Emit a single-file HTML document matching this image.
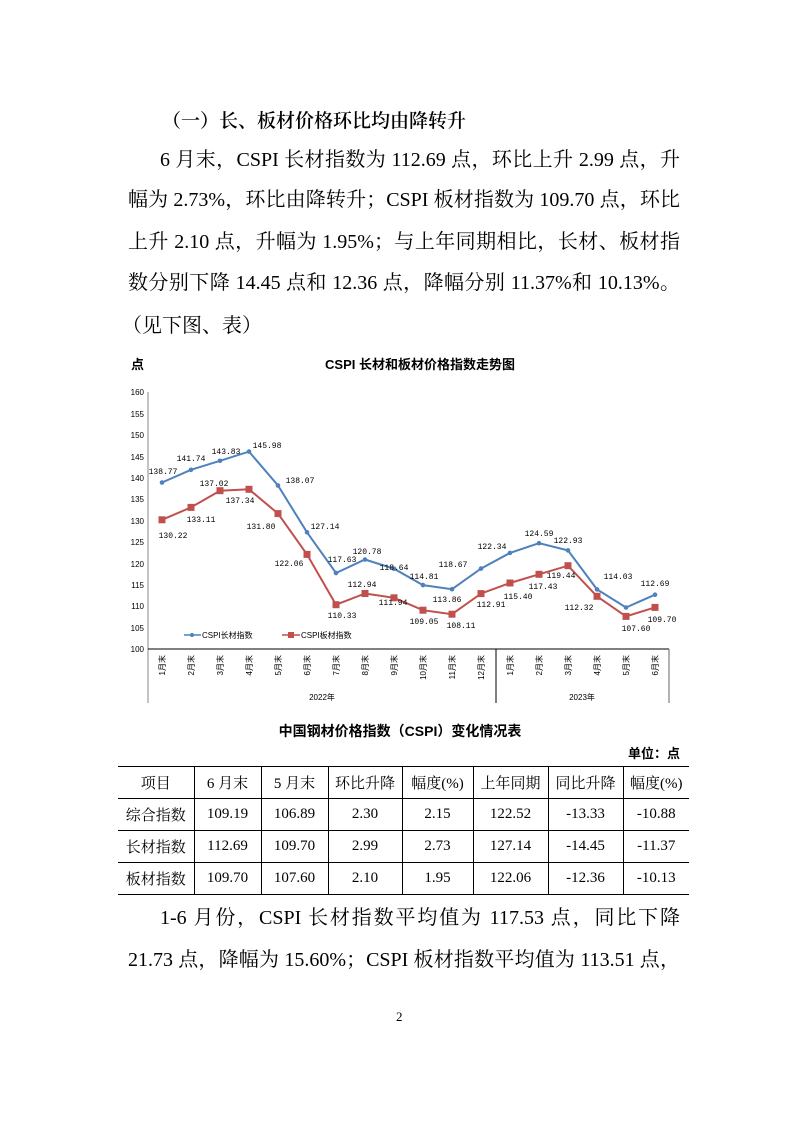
<!DOCTYPE html>
<html><head><meta charset="utf-8"><style>
html,body{margin:0;padding:0;background:#fff;}
body{width:800px;height:1131px;position:relative;overflow:hidden;font-family:"Liberation Serif","Noto Serif CJK SC",serif;color:#000;}
.ln{position:absolute;left:128px;width:552px;font-size:20px;line-height:24px;text-align:justify;text-align-last:justify;white-space:nowrap;}
.abs{position:absolute;white-space:nowrap;}
table{position:absolute;left:118px;top:766px;width:571px;border-collapse:collapse;font-size:15px;table-layout:fixed;}
td{height:31px;text-align:center;border-left:1px solid #000;padding:0;overflow:hidden;white-space:nowrap;}
td:first-child{border-left:none;}
tr:first-child td{border-top:1.5px solid #000;}
tr td{border-bottom:1px solid #000;}
tr:last-child td{border-bottom:1.5px solid #000;}
</style></head><body>
<div class="abs" style="left:162px;top:106px;font-size:19px;font-weight:600;font-family:'Noto Serif CJK SC',serif;">（一）长、板材价格环比均由降转升</div>
<div class="ln" style="top:148px;left:160px;width:520px;">6 月末，CSPI 长材指数为 112.69 点，环比上升 2.99 点，升</div>
<div class="ln" style="top:188px;">幅为 2.73%，环比由降转升；CSPI 板材指数为 109.70 点，环比</div>
<div class="ln" style="top:230px;">上升 2.10 点，升幅为 1.95%；与上年同期相比，长材、板材指</div>
<div class="ln" style="top:271px;">数分别下降 14.45 点和 12.36 点，降幅分别 11.37%和 10.13%。</div>
<div class="abs" style="top:314px;left:122px;font-size:20px;line-height:24px;">（见下图、表）</div>

<svg width="800" height="1131" style="position:absolute;left:0;top:0" xmlns="http://www.w3.org/2000/svg">
<g font-family="Liberation Sans,Noto Sans CJK SC,sans-serif">
<text x="131" y="369" font-size="13" font-weight="bold">点</text>
<text x="420" y="369" font-size="13" font-weight="bold" text-anchor="middle">CSPI 长材和板材价格指数走势图</text>
</g>
<g font-family="Liberation Sans,sans-serif" font-size="8" text-anchor="end" fill="#000">
<text x="144" y="395">160</text><text x="144" y="417">155</text><text x="144" y="438">150</text><text x="144" y="460">145</text><text x="144" y="481">140</text><text x="144" y="502">135</text><text x="144" y="524">130</text><text x="144" y="545">125</text><text x="144" y="567">120</text><text x="144" y="588">115</text><text x="144" y="609">110</text><text x="144" y="631">105</text><text x="144" y="652">100</text>
</g>
<g stroke="#000" stroke-width="1">
<line x1="148" y1="392" x2="148" y2="703" stroke="#888"/>
<line x1="148" y1="649" x2="669" y2="649"/>
<line x1="496" y1="649" x2="496" y2="703"/>
<line x1="669" y1="649" x2="669" y2="703" stroke="#666"/>
</g>
<polyline fill="none" stroke="#4f81bd" stroke-width="2" points="162,482.5 191,469.8 220,460.8 249,451.6 278,485.5 307,532.3 336,573.0 365,559.5 394,568.7 423,585.1 452,589.2 481,568.6 510,552.9 539,543.2 568,550.4 597,589.4 626,607.5 655,594.7"/>
<g fill="#4f81bd">
<circle cx="162" cy="482.5" r="2.3"/><circle cx="191" cy="469.8" r="2.3"/><circle cx="220" cy="460.8" r="2.3"/><circle cx="249" cy="451.6" r="2.3"/><circle cx="278" cy="485.5" r="2.3"/><circle cx="307" cy="532.3" r="2.3"/><circle cx="336" cy="573.0" r="2.3"/><circle cx="365" cy="559.5" r="2.3"/><circle cx="394" cy="568.7" r="2.3"/><circle cx="423" cy="585.1" r="2.3"/><circle cx="452" cy="589.2" r="2.3"/><circle cx="481" cy="568.6" r="2.3"/><circle cx="510" cy="552.9" r="2.3"/><circle cx="539" cy="543.2" r="2.3"/><circle cx="568" cy="550.4" r="2.3"/><circle cx="597" cy="589.4" r="2.3"/><circle cx="626" cy="607.5" r="2.3"/><circle cx="655" cy="594.7" r="2.3"/>
</g>
<polyline fill="none" stroke="#c0504d" stroke-width="2" points="162,519.8 191,507.4 220,490.7 249,489.3 278,513.6 307,554.4 336,604.7 365,593.5 394,597.8 423,610.2 452,614.2 481,593.6 510,583.0 539,574.3 568,565.7 597,596.3 626,616.4 655,607.4"/>
<g fill="#c0504d">
<rect x="158.5" y="516.3" width="7" height="7"/><rect x="187.5" y="503.9" width="7" height="7"/><rect x="216.5" y="487.2" width="7" height="7"/><rect x="245.5" y="485.8" width="7" height="7"/><rect x="274.5" y="510.1" width="7" height="7"/><rect x="303.5" y="550.9" width="7" height="7"/><rect x="332.5" y="601.2" width="7" height="7"/><rect x="361.5" y="590" width="7" height="7"/><rect x="390.5" y="594.3" width="7" height="7"/><rect x="419.5" y="606.7" width="7" height="7"/><rect x="448.5" y="610.7" width="7" height="7"/><rect x="477.5" y="590.1" width="7" height="7"/><rect x="506.5" y="579.5" width="7" height="7"/><rect x="535.5" y="570.8" width="7" height="7"/><rect x="564.5" y="562.2" width="7" height="7"/><rect x="593.5" y="592.8" width="7" height="7"/><rect x="622.5" y="612.9" width="7" height="7"/><rect x="651.5" y="603.9" width="7" height="7"/>
</g>
<g font-family="Liberation Mono,monospace" font-size="8" text-anchor="middle" fill="#000">
<text x="163" y="474">138.77</text><text x="191" y="461">141.74</text><text x="226" y="454">143.83</text><text x="267" y="448">145.98</text><text x="300" y="483">138.07</text><text x="325" y="529">127.14</text><text x="342" y="562">117.63</text><text x="367" y="554">120.78</text><text x="394" y="570">118.64</text><text x="424" y="579">114.81</text><text x="447" y="602">113.86</text><text x="453" y="567">118.67</text><text x="492" y="549">122.34</text><text x="539" y="536">124.59</text><text x="568" y="543">122.93</text><text x="618" y="579">114.03</text><text x="655" y="586">112.69</text>
<text x="173" y="538">130.22</text><text x="201" y="522">133.11</text><text x="214" y="486">137.02</text><text x="240" y="503">137.34</text><text x="261" y="529">131.80</text><text x="289" y="566">122.06</text><text x="342" y="618">110.33</text><text x="362" y="587">112.94</text><text x="393" y="605">111.94</text><text x="424" y="624">109.05</text><text x="461" y="628">108.11</text><text x="491" y="607">112.91</text><text x="518" y="599">115.40</text><text x="543" y="589">117.43</text><text x="561" y="578">119.44</text><text x="579" y="610">112.32</text><text x="636" y="631">107.60</text><text x="662" y="622">109.70</text>
</g>
<line x1="184" y1="635" x2="201" y2="635" stroke="#4f81bd" stroke-width="1.5"/><circle cx="192" cy="635" r="2" fill="#4f81bd"/>
<line x1="282" y1="635" x2="300" y2="635" stroke="#c0504d" stroke-width="1.5"/><rect x="288" y="632" width="6" height="6" fill="#c0504d"/>
<g font-family="Liberation Sans,Noto Sans CJK SC,sans-serif" font-size="8" fill="#000">
<text x="202" y="638">CSPI长材指数</text><text x="301" y="638">CSPI板材指数</text>
<text x="322" y="700" text-anchor="middle">2022年</text><text x="582" y="700" text-anchor="middle">2023年</text>
</g>
<g font-family="Liberation Sans,Noto Sans CJK SC,sans-serif" font-size="8" text-anchor="end" fill="#000">
<text transform="translate(165,655) rotate(-90)">1月末</text><text transform="translate(194,655) rotate(-90)">2月末</text><text transform="translate(223,655) rotate(-90)">3月末</text><text transform="translate(252,655) rotate(-90)">4月末</text><text transform="translate(281,655) rotate(-90)">5月末</text><text transform="translate(310,655) rotate(-90)">6月末</text><text transform="translate(339,655) rotate(-90)">7月末</text><text transform="translate(368,655) rotate(-90)">8月末</text><text transform="translate(397,655) rotate(-90)">9月末</text><text transform="translate(426,655) rotate(-90)">10月末</text><text transform="translate(455,655) rotate(-90)">11月末</text><text transform="translate(484,655) rotate(-90)">12月末</text><text transform="translate(513,655) rotate(-90)">1月末</text><text transform="translate(542,655) rotate(-90)">2月末</text><text transform="translate(571,655) rotate(-90)">3月末</text><text transform="translate(600,655) rotate(-90)">4月末</text><text transform="translate(629,655) rotate(-90)">5月末</text><text transform="translate(658,655) rotate(-90)">6月末</text>
</g>
<g font-family="Liberation Sans,Noto Sans CJK SC,sans-serif" font-weight="bold" font-size="14" fill="#000">
<text x="400" y="736" text-anchor="middle">中国钢材价格指数（CSPI）变化情况表</text>
<text x="680" y="758" text-anchor="end" font-size="13">单位：点</text>
</g>
</svg>

<table>
<colgroup><col style="width:76px"><col style="width:67px"><col style="width:67px"><col style="width:74px"><col style="width:71px"><col style="width:75px"><col style="width:75px"><col style="width:66px"></colgroup>
<tr><td>项目</td><td>6 月末</td><td>5 月末</td><td>环比升降</td><td>幅度(%)</td><td>上年同期</td><td>同比升降</td><td>幅度(%)</td></tr>
<tr><td>综合指数</td><td>109.19</td><td>106.89</td><td>2.30</td><td>2.15</td><td>122.52</td><td>-13.33</td><td>-10.88</td></tr>
<tr><td>长材指数</td><td>112.69</td><td>109.70</td><td>2.99</td><td>2.73</td><td>127.14</td><td>-14.45</td><td>-11.37</td></tr>
<tr><td>板材指数</td><td>109.70</td><td>107.60</td><td>2.10</td><td>1.95</td><td>122.06</td><td>-12.36</td><td>-10.13</td></tr>
</table>

<div class="ln" style="top:906px;left:160px;width:520px;">1-6 月份，CSPI 长材指数平均值为 117.53 点，同比下降</div>
<div class="ln" style="top:948px;">21.73 点，降幅为 15.60%；CSPI 板材指数平均值为 113.51 点，</div>
<div class="abs" style="left:396px;top:1009px;font-size:13px;">2</div>
</body></html>
